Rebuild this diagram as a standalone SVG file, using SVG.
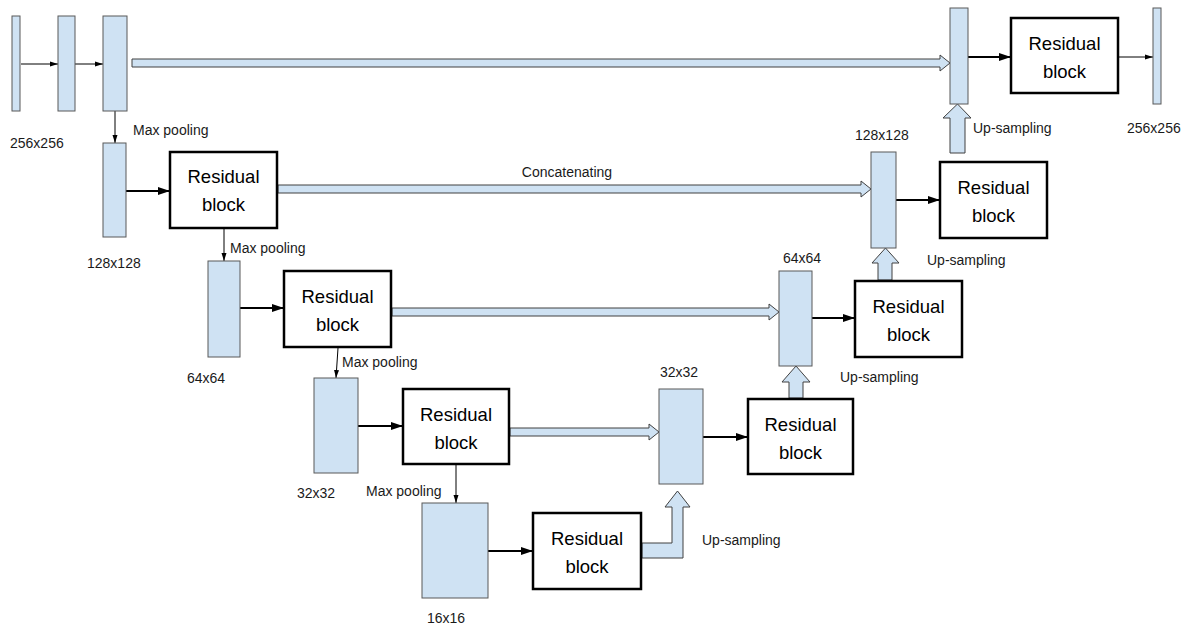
<svg xmlns="http://www.w3.org/2000/svg" width="1184" height="626" viewBox="0 0 1184 626">
<defs>
<style>
.bar{fill:#cfe2f3;stroke:#595959;stroke-width:1}
.box{fill:#fff;stroke:#000;stroke-width:2.5}
.band{fill:#cfe2f3;stroke:#404040;stroke-width:1;stroke-linejoin:miter}
.thin{stroke:#000;stroke-width:1;fill:none;marker-end:url(#ahs)}
.thick{stroke:#000;stroke-width:2;fill:none;marker-end:url(#ahl)}
.lbl{font-family:"Liberation Sans",Arial,sans-serif;font-size:14px;fill:#1a1a1a}
.rb{font-family:"Liberation Sans",Arial,sans-serif;font-size:18.5px;fill:#000;text-anchor:middle}
</style>
<marker id="ahs" markerUnits="userSpaceOnUse" markerWidth="8" markerHeight="8" viewBox="0 0 8 8" refX="8" refY="4" orient="auto"><path d="M0,1.5 L8,4 L0,6.5 Z" fill="#000"/></marker>
<marker id="ahl" markerUnits="userSpaceOnUse" markerWidth="12" markerHeight="10" viewBox="0 0 12 10" refX="12" refY="5" orient="auto"><path d="M0,1 L12,5 L0,9 Z" fill="#000"/></marker>
</defs>
<rect width="1184" height="626" fill="#fff"/>

<g id="connectors">
<line class="thin" x1="21" y1="64" x2="58" y2="64"/>
<line class="thin" x1="75" y1="64" x2="103" y2="64"/>
<line class="thin" x1="115" y1="111" x2="115" y2="143"/>
<line class="thin" x1="224" y1="229" x2="224" y2="261"/>
<line class="thin" x1="338" y1="348" x2="336" y2="378"/>
<line class="thin" x1="456" y1="465" x2="456" y2="503"/>
<line class="thin" x1="1119" y1="57" x2="1153" y2="57"/>
<line class="thick" x1="126" y1="191" x2="170" y2="191"/>
<line class="thick" x1="240" y1="308" x2="284" y2="308"/>
<line class="thick" x1="358" y1="426" x2="403" y2="426"/>
<line class="thick" x1="488" y1="551" x2="533" y2="551"/>
<line class="thick" x1="703" y1="437" x2="748" y2="437"/>
<line class="thick" x1="812" y1="318" x2="855" y2="318"/>
<line class="thick" x1="896" y1="200" x2="940" y2="200"/>
<line class="thick" x1="968" y1="57" x2="1011" y2="57"/>
<polygon class="band" points="132,59 940,59 940,55 950,63 940,71 940,67 132,67"/>
<polygon class="band" points="278,185 861,185 861,181 871,189 861,197 861,193 278,193"/>
<polygon class="band" points="392,308 769,308 769,304 779,312 769,320 769,316 392,316"/>
<polygon class="band" points="510,428 649,428 649,424 659,432 649,440 649,436 510,436"/>
<polygon class="band" points="950,153 950,118 943,118 957.5,104 971,118 965,118 965,153"/>
<polygon class="band" points="878,280 878,263 872,263 885.5,248 899,263 892,263 892,280"/>
<polygon class="band" points="789,398 789,382 782,382 796,366 810,382 803,382 803,398"/>
<polygon class="band" points="642,543 672,543 672,507 665,507 677.5,491 690,507 683,507 683,558 642,558"/>
</g>

<g id="enc-a"><rect class="bar" x="12" y="16" width="8" height="95"/></g>
<g id="enc-b"><rect class="bar" x="58" y="16" width="17" height="95"/></g>
<g id="enc-c"><rect class="bar" x="103" y="16" width="24" height="95"/></g>
<g id="enc-128"><rect class="bar" x="103" y="143" width="23" height="94"/></g>
<g id="enc-64"><rect class="bar" x="208" y="261" width="32" height="96"/></g>
<g id="enc-32"><rect class="bar" x="314" y="378" width="44" height="95"/></g>
<g id="enc-16"><rect class="bar" x="422" y="503" width="66" height="95"/></g>
<g id="dec-32"><rect class="bar" x="659" y="389" width="44" height="95"/></g>
<g id="dec-64"><rect class="bar" x="779" y="271" width="33" height="95"/></g>
<g id="dec-128"><rect class="bar" x="871" y="152" width="25" height="96"/></g>
<g id="dec-256"><rect class="bar" x="950" y="8" width="18" height="96"/></g>
<g id="out"><rect class="bar" x="1153" y="8" width="8" height="96"/></g>

<g id="rb1"><rect class="box" x="170" y="152" width="107" height="76"/><text class="rb" x="223.5" y="183">Residual</text><text class="rb" x="223.5" y="211">block</text></g>
<g id="rb2"><rect class="box" x="284" y="271" width="107" height="76"/><text class="rb" x="337.5" y="303">Residual</text><text class="rb" x="337.5" y="331">block</text></g>
<g id="rb3"><rect class="box" x="403" y="389" width="106" height="75"/><text class="rb" x="456" y="421">Residual</text><text class="rb" x="456" y="449">block</text></g>
<g id="rb4"><rect class="box" x="533" y="513" width="108" height="76"/><text class="rb" x="587" y="545">Residual</text><text class="rb" x="587" y="573">block</text></g>
<g id="rb5"><rect class="box" x="748" y="399" width="105" height="75"/><text class="rb" x="800.5" y="431">Residual</text><text class="rb" x="800.5" y="459">block</text></g>
<g id="rb6"><rect class="box" x="855" y="281" width="107" height="76"/><text class="rb" x="908.5" y="313">Residual</text><text class="rb" x="908.5" y="341">block</text></g>
<g id="rb7"><rect class="box" x="940" y="162" width="107" height="76"/><text class="rb" x="993.5" y="194">Residual</text><text class="rb" x="993.5" y="222">block</text></g>
<g id="rb8"><rect class="box" x="1011" y="18" width="107" height="75"/><text class="rb" x="1064.5" y="50">Residual</text><text class="rb" x="1064.5" y="78">block</text></g>

<g id="labels">
<text class="lbl" x="10" y="148">256x256</text>
<text class="lbl" x="133" y="135">Max pooling</text>
<text class="lbl" x="1127" y="133">256x256</text>
<text class="lbl" x="973" y="133">Up-sampling</text>
<text class="lbl" x="87" y="268">128x128</text>
<text class="lbl" x="230" y="253">Max pooling</text>
<text class="lbl" x="567" y="177" text-anchor="middle">Concatenating</text>
<text class="lbl" x="855" y="140">128x128</text>
<text class="lbl" x="927" y="265">Up-sampling</text>
<text class="lbl" x="187" y="383">64x64</text>
<text class="lbl" x="342" y="367">Max pooling</text>
<text class="lbl" x="783" y="263">64x64</text>
<text class="lbl" x="840" y="382">Up-sampling</text>
<text class="lbl" x="297" y="498">32x32</text>
<text class="lbl" x="366" y="496">Max pooling</text>
<text class="lbl" x="660" y="377">32x32</text>
<text class="lbl" x="427" y="623">16x16</text>
<text class="lbl" x="702" y="545">Up-sampling</text>
</g>
</svg>
